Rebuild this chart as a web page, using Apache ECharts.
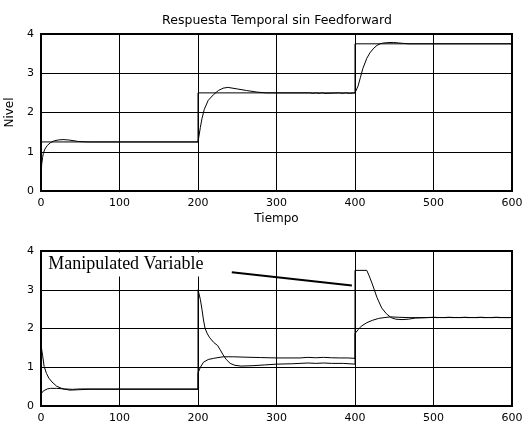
<!DOCTYPE html>
<html>
<head>
<meta charset="utf-8">
<script src="https://cdn.jsdelivr.net/npm/echarts@6/dist/echarts.min.js"></script>
<style>
html,body{margin:0;padding:0;background:#fff;}
#c{width:524px;height:425px;}
</style>
</head>
<body>
<div id="c"></div>
<script>
var titleText = 'Respuesta Temporal sin Feedforward';
var xName = 'Tiempo';
var yName = 'Nivel';
var annotationText = 'Manipulated Variable';
var xTicks = [0, 100, 200, 300, 400, 500, 600];
var yTicks = [0, 1, 2, 3, 4];

// Top: setpoint
var setpointT = [0, 200, 200, 400, 400, 600];
var setpointY = [1.25, 1.25, 2.5, 2.5, 3.75, 3.75];

// Top: level response
var levelT = [0, 1, 2, 3, 5, 8, 12, 17, 22, 28, 35, 42, 48, 60, 200,
  200.5, 203, 205, 208, 213, 220, 226, 232, 238, 250, 262, 275, 287, 300,
  343, 346, 350, 354, 358, 362, 380, 384, 388, 393, 400,
  402, 404, 407, 410, 415, 419, 424, 428, 432, 436, 442, 449, 456, 462, 468, 475, 600];
var levelY = [0.45, 0.7, 0.85, 0.96, 1.07, 1.16, 1.23, 1.28, 1.30, 1.31, 1.30, 1.28, 1.26, 1.25, 1.25,
  1.30, 1.62, 1.84, 2.08, 2.31, 2.46, 2.56, 2.62, 2.64, 2.60, 2.56, 2.52, 2.50, 2.50,
  2.50, 2.485, 2.50, 2.485, 2.50, 2.485, 2.50, 2.485, 2.50, 2.485, 2.50,
  2.55, 2.68, 2.90, 3.12, 3.38, 3.52, 3.64, 3.71, 3.75, 3.77, 3.78, 3.785, 3.77, 3.76, 3.75, 3.75, 3.75];

// Bottom: manipulated variable
var mvT = [0, 2, 4, 7, 10, 14, 20, 28, 37, 48, 60, 200,
  200, 201, 203, 205, 207, 209, 212, 215, 220, 225, 228, 232, 236, 241, 247, 255, 270, 285, 300,
  320, 330, 340, 350, 360, 370, 385, 400,
  400, 415, 418, 422, 428, 434, 440, 446, 452, 460, 468, 477, 490,
  500, 505, 510, 515, 520, 525, 530, 535, 540, 545, 550, 555, 560, 565, 570, 575, 580, 585, 590, 595, 600];
var mvY = [1.57, 1.31, 1.02, 0.84, 0.72, 0.62, 0.51, 0.44, 0.41, 0.42, 0.43, 0.43,
  3.0, 3.0, 2.75, 2.5, 2.22, 2.0, 1.86, 1.76, 1.64, 1.56, 1.46, 1.32, 1.2, 1.1, 1.05, 1.03, 1.04, 1.06, 1.08,
  1.09, 1.1, 1.11, 1.1, 1.11, 1.1, 1.1, 1.08,
  3.5, 3.5, 3.36, 3.15, 2.8, 2.53, 2.38, 2.28, 2.24, 2.23, 2.24, 2.27, 2.28,
  2.285, 2.28, 2.285, 2.28, 2.285, 2.28, 2.285, 2.28, 2.285, 2.28, 2.285, 2.28, 2.285, 2.28, 2.285, 2.28, 2.285, 2.28, 2.285, 2.28, 2.285];

// Bottom: controlled variable
var cvT = [0, 2, 5, 8, 12, 20, 30, 40, 50, 200,
  200, 203, 207, 213, 220, 232, 245, 260, 280, 300, 330, 340, 350, 360, 370, 380, 390, 400,
  400, 404, 408, 415, 422, 430, 437, 445, 455, 470, 490,
  500, 510, 520, 530, 540, 550, 560, 570, 580, 590, 600];
var cvY = [0.3, 0.37, 0.41, 0.44, 0.455, 0.455, 0.44, 0.43, 0.44, 0.44,
  0.85, 1.0, 1.13, 1.2, 1.23, 1.27, 1.27, 1.26, 1.25, 1.24, 1.24, 1.255, 1.245, 1.255, 1.245, 1.24, 1.24, 1.23,
  1.87, 1.97, 2.06, 2.15, 2.21, 2.26, 2.28, 2.3, 2.29, 2.28, 2.28,
  2.29, 2.28, 2.29, 2.28, 2.29, 2.28, 2.29, 2.28, 2.29, 2.28, 2.285];

// Annotation arrow (data coordinates of bottom plot)
var annoLineStart = [243, 3.45];
var annoLineEnd = [396, 3.11];
var annoTextAt = [4, 3.65];

function pairs(t, v) { return t.map(function (x, i) { return [x, v[i]]; }); }

var chart = echarts.init(document.getElementById('c'), null, {renderer: 'canvas'});

function mkX(idx, name) {
  return {
    type: 'value', gridIndex: idx, min: xTicks[0], max: xTicks[xTicks.length - 1],
    interval: xTicks[1] - xTicks[0],
    name: name, nameLocation: 'middle', nameGap: 22,
    nameTextStyle: {fontFamily: 'DejaVu Sans', fontSize: 12, color: '#000'},
    axisLine: {show: false}, axisTick: {show: false},
    axisLabel: {fontFamily: 'DejaVu Sans', fontSize: 11, color: '#000', margin: 7, hideOverlap: false},
    splitLine: {show: true, lineStyle: {color: '#000', width: 1}}
  };
}
function mkY(idx, name) {
  return {
    type: 'value', gridIndex: idx, min: yTicks[0], max: yTicks[yTicks.length - 1],
    interval: yTicks[1] - yTicks[0],
    name: name, nameLocation: 'middle', nameGap: 21, nameRotate: 90,
    nameTextStyle: {fontFamily: 'DejaVu Sans', fontSize: 12, color: '#000'},
    axisLine: {show: false}, axisTick: {show: false},
    axisLabel: {fontFamily: 'DejaVu Sans', fontSize: 11, color: '#000', margin: 7},
    splitLine: {show: true, lineStyle: {color: '#000', width: 1}}
  };
}
function mkLine(t, v, gi, extra) {
  var s = {
    type: 'line', xAxisIndex: gi, yAxisIndex: gi, data: pairs(t, v),
    showSymbol: false, symbol: 'none', silent: true,
    lineStyle: {color: '#000', width: 1}, z: 3
  };
  if (extra) for (var k in extra) s[k] = extra[k];
  return s;
}

var option = {
  backgroundColor: '#fff',
  animation: false,
  title: {
    text: titleText, left: 272, top: 9, textAlign: 'center',
    textStyle: {fontFamily: 'DejaVu Sans', fontSize: 12.5, fontWeight: 'normal', color: '#000'}
  },
  grid: [
    {left: 41, top: 34, width: 471, height: 157, containLabel: false, outerBoundsMode: 'none',
     show: true, borderColor: '#000', borderWidth: 2, backgroundColor: '#fff'},
    {left: 41, top: 251, width: 471, height: 155, containLabel: false, outerBoundsMode: 'none',
     show: true, borderColor: '#000', borderWidth: 2, backgroundColor: '#fff'}
  ],
  xAxis: [mkX(0, xName), mkX(1, '')],
  yAxis: [mkY(0, yName), mkY(1, '')],
  series: [
    mkLine(setpointT, setpointY, 0),
    mkLine(levelT, levelY, 0),
    mkLine(cvT, cvY, 1),
    mkLine(mvT, mvY, 1, {
      markLine: {
        silent: true, symbol: ['none', 'none'], animation: false,
        label: {show: false},
        lineStyle: {color: '#000', width: 2, type: 'solid'},
        data: [[{coord: annoLineStart}, {coord: annoLineEnd}]]
      },
      markPoint: {
        silent: true, symbol: 'circle', symbolSize: 0, animation: false,
        data: [{coord: annoTextAt, value: annotationText}],
        label: {
          show: true, position: 'right', distance: 0, formatter: annotationText,
          fontFamily: 'Liberation Serif', fontSize: 18, color: '#000',
          backgroundColor: '#fff', padding: [3, 4, 3, 4]
        }
      }
    })
  ]
};
chart.setOption(option);
</script>
</body>
</html>
